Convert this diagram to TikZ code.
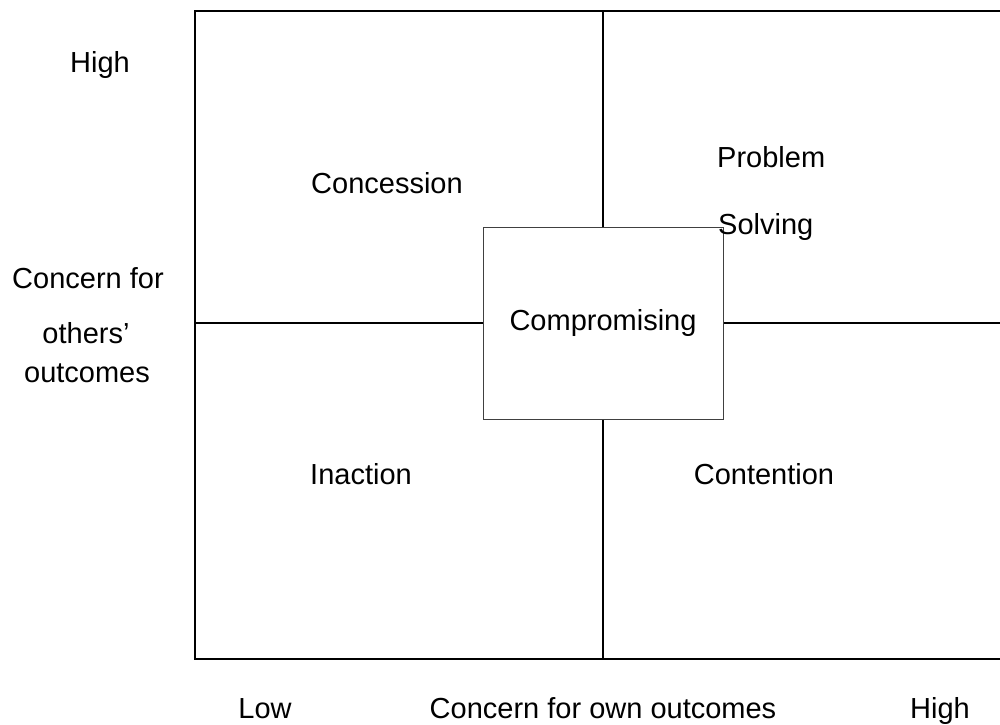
\documentclass[tikz,border=0pt]{standalone}
\usepackage{fontspec}
\setmainfont{Liberation Sans}
\begin{document}
\begin{tikzpicture}[x=1pt,y=-1pt,
  lbl/.style={font=\fontsize{29}{35}\selectfont, inner sep=0pt, anchor=base},
  lblw/.style={lbl, anchor=base west},
  axisline/.style={line width=2pt, black},
  compbox/.style={draw=black!75, line width=1pt, fill=white, inner sep=0pt,
    minimum width=240pt, minimum height=192pt,
    font=\fontsize{29}{35}\selectfont}]
\useasboundingbox (0,0) rectangle (1000,724);
% grid
\coordinate (tl) at (195,11);
\coordinate (bl) at (195,659);
\coordinate (tr) at (1001,11);
\coordinate (br) at (1001,659);
\coordinate (vt) at (603,11);
\coordinate (vb) at (603,659);
\coordinate (hl) at (195,323);
\coordinate (hr) at (1001,323);
\draw[axisline] (tr) -- (tl) -- (bl) -- (br);
\draw[axisline] (vt) -- (vb);
\draw[axisline] (hl) -- (hr);
% centre box
\node[compbox] (comp) at (603,323) {Compromising};
% quadrant labels
\node[lbl] (concession) at (387,193) {Concession};
\node[lblw] (problem) at (717,167) {Problem};
\node[lblw] (solving) at (718,234) {Solving};
\node[lbl] (inaction) at (361,484) {Inaction};
\node[lbl] (contention) at (764,484) {Contention};
% left axis labels
\node[lbl] (yhigh) at (100,72) {High};
\node[lbl] (ylab1) at (88,288) {Concern for};
\node[lbl] (ylab2) at (86,343) {others’};
\node[lbl] (ylab3) at (87,382) {outcomes};
% bottom axis labels
\node[lbl] (xlow) at (265,718) {Low};
\node[lbl] (xlab) at (603,718) {Concern for own outcomes};
\node[lbl] (xhigh) at (940,718) {High};
\end{tikzpicture}
\end{document}
